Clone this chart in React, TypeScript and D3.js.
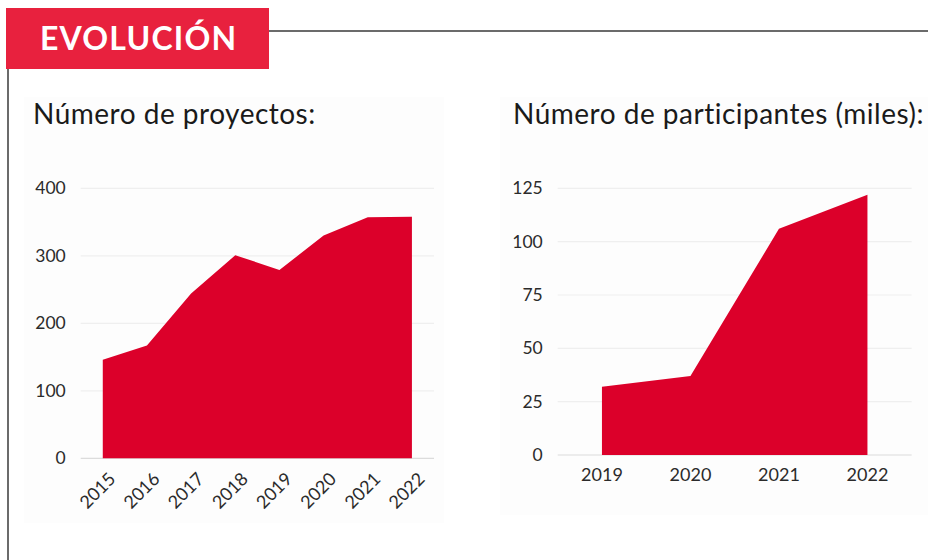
import * as d3 from 'd3';

const projectYears = ['2015', '2016', '2017', '2018', '2019', '2020', '2021', '2022'];
const projectValues = [146, 167, 244, 301, 279, 330, 357, 358];
const projectTicks = [0, 100, 200, 300, 400];

const participantYears = ['2019', '2020', '2021', '2022'];
const participantValues = [32, 37, 106, 122];
const participantTicks = [0, 25, 50, 75, 100, 125];

const RED = '#dc002a';
const BANNER = '#e8213e';
const FONT = 'Lato, "Open Sans", sans-serif';

type AreaProps = {
  years: string[];
  values: number[];
  ticks: number[];
  x0: number;
  x1: number;
  yTop: number;
  yBottom: number;
  rotate: boolean;
};

function AreaPanel({ years, values, ticks, x0, x1, yTop, yBottom, rotate }: AreaProps) {
  const x = d3.scaleBand<string>().domain(years).range([x0, x1]).paddingInner(0).paddingOuter(0);
  const y = d3.scaleLinear().domain([0, ticks[ticks.length - 1]]).range([yBottom, yTop]);
  const cx = (yr: string) => (x(yr) ?? 0) + x.bandwidth() / 2;
  const area = d3
    .area<number>()
    .x((_d, i) => cx(years[i]))
    .y0(y(0))
    .y1((d) => y(d));

  return (
    <g>
      {ticks.map((t) => (
        <g key={t}>
          <line x1={x0} x2={x1} y1={y(t)} y2={y(t)} stroke={t === 0 ? '#dcdcdc' : '#efefef'} strokeWidth={1.2} />
          <text x={x0 - 15} y={y(t)} dy="0.35em" textAnchor="end" fontSize={17.5} fill="#2b2b2b" fontFamily={FONT}>
            {t}
          </text>
        </g>
      ))}
      <path d={area(values) ?? ''} fill={RED} />
      {years.map((yr) =>
        rotate ? (
          <text
            key={yr}
            transform={`translate(${cx(yr) + 5},${yBottom + 13}) rotate(-45)`}
            textAnchor="end"
            dy="0.7em"
            fontSize={18}
            fill="#2b2b2b"
            fontFamily={FONT}
          >
            {yr}
          </text>
        ) : (
          <text key={yr} x={cx(yr)} y={yBottom + 26} textAnchor="middle" fontSize={18} fill="#2b2b2b" fontFamily={FONT}>
            {yr}
          </text>
        )
      )}
    </g>
  );
}

export default function App() {
  return (
    <svg
      width={928}
      height={560}
      style={{ position: 'absolute', left: 0, top: 0, background: '#fff' }}
    >
      <rect x={24} y={97} width={420} height={426} fill="#fdfdfd" />
      <rect x={500} y={97} width={428} height={418} fill="#fdfdfd" />

      <line x1={269} x2={928} y1={31} y2={31} stroke="#6b6b6b" strokeWidth={2} />
      <line x1={8} x2={8} y1={69} y2={560} stroke="#6b6b6b" strokeWidth={2} />
      <rect x={6} y={8} width={263} height={61} fill={BANNER} />
      <text x={40} y={50} fill="#fff" fontSize={32} fontWeight={700} fontFamily={FONT} letterSpacing={1.2}>
        EVOLUCIÓN
      </text>

      <text x={33} y={124} fontSize={28} fill="#1a1a1a" fontFamily={FONT} letterSpacing={0.5}>
        Número de proyectos:
      </text>
      <text x={513} y={124} fontSize={28} fill="#1a1a1a" fontFamily={FONT} letterSpacing={0.5}>
        Número de participantes (miles):
      </text>

      <AreaPanel
        years={projectYears}
        values={projectValues}
        ticks={projectTicks}
        x0={80.7}
        x1={434}
        yTop={188.3}
        yBottom={458.3}
        rotate
      />
      <AreaPanel
        years={participantYears}
        values={participantValues}
        ticks={participantTicks}
        x0={557.7}
        x1={911.7}
        yTop={188.3}
        yBottom={455}
        rotate={false}
      />
    </svg>
  );
}
